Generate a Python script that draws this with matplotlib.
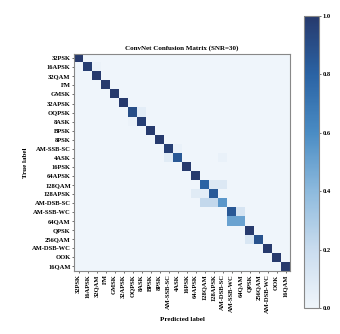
import matplotlib as mpl
mpl.use('Agg')
import matplotlib.pyplot as plt
from matplotlib.colors import LinearSegmentedColormap
import numpy as np

labels = ["32PSK", "16APSK", "32QAM", "FM", "GMSK", "32APSK", "OQPSK", "8ASK",
          "BPSK", "8PSK", "AM-SSB-SC", "4ASK", "16PSK", "64APSK", "128QAM",
          "128APSK", "AM-DSB-SC", "AM-SSB-WC", "64QAM", "QPSK", "256QAM",
          "AM-DSB-WC", "OOK", "16QAM"]

# off-diagonal entries: (true, predicted, value)
diag = [1.0, 0.98, 1.0, 1.0, 1.0, 1.0, 0.9, 0.97, 1.0, 1.0, 0.97, 0.85,
        1.0, 1.0, 0.8, 0.84, 0.55, 0.85, 0.5, 1.0, 0.88, 1.0, 1.0, 1.0]
off = [(1, 2, 0.02), (6, 7, 0.06), (7, 6, 0.02), (10, 11, 0.03),
       (11, 10, 0.08), (11, 16, 0.03), (14, 15, 0.1), (14, 16, 0.1),
       (15, 13, 0.08), (15, 14, 0.06), (16, 14, 0.22), (16, 15, 0.22),
       (17, 18, 0.13), (18, 17, 0.5), (20, 19, 0.12)]

n = len(labels)
cm = np.zeros((n, n))
cm[np.arange(n), np.arange(n)] = diag
for i, j, v in off:
    cm[i, j] = v

# washed-out Blues, as in the picture
cmap = LinearSegmentedColormap.from_list(
    'blues_soft', [(0.0, '#eff5fb'), (0.2, '#c9dcee'), (0.4, '#8dbadd'),
                   (0.6, '#4a8cc4'), (0.8, '#2a63a4'), (1.0, '#273a6d')])

plt.rcParams['font.family'] = ['Liberation Serif', 'DejaVu Serif']
plt.rcParams['font.weight'] = 'bold'

fig = plt.figure(figsize=(3.4, 3.34), dpi=100)
ax = fig.add_axes([0.218, 0.189, 0.635, 0.650])
cax = fig.add_axes([0.894, 0.078, 0.044, 0.874])

im = ax.imshow(cm, cmap=cmap, vmin=0, vmax=1, interpolation='nearest', aspect='auto')
ax.set_title("ConvNet Confusion Matrix (SNR=30)", fontsize=5, fontweight='bold', pad=3)
ax.set_xticks(np.arange(n))
ax.set_yticks(np.arange(n))
ax.set_xticklabels(labels, rotation=90, fontsize=4.7, fontweight='bold')
ax.set_yticklabels(labels, fontsize=4.7, fontweight='bold')
ax.tick_params(length=1.5, width=0.4, pad=1)
ax.set_xlabel("Predicted label", fontsize=5, fontweight='bold', labelpad=3)
ax.set_ylabel("True label", fontsize=5, fontweight='bold', labelpad=3)
for s in ax.spines.values():
    s.set_edgecolor('#888888')
    s.set_linewidth(0.8)

cb = fig.colorbar(im, cax=cax, ticks=[0, 0.2, 0.4, 0.6, 0.8, 1.0])
cb.ax.tick_params(labelsize=4.7, length=1.5, width=0.4, pad=1)
cb.outline.set_edgecolor('#888888')
cb.outline.set_linewidth(0.8)
for t in cb.ax.get_yticklabels():
    t.set_fontweight('bold')

plt.savefig('out.png', dpi=100)
